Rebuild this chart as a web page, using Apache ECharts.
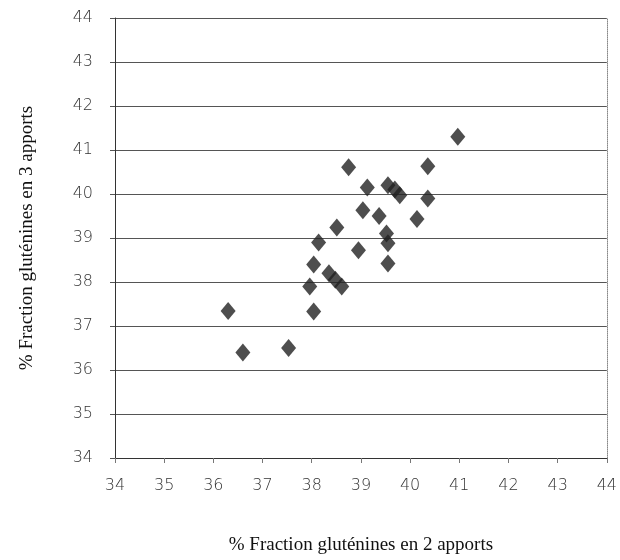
<!DOCTYPE html>
<html>
<head>
<meta charset="utf-8">
<script src="https://cdn.jsdelivr.net/npm/echarts@6/dist/echarts.min.js"></script>
<style>
  html, body { margin: 0; padding: 0; background: #fff; }
  #chart { width: 620px; height: 560px; }
</style>
</head>
<body>
<div id="chart"></div>
<script>
// % fraction en 2 apports (x) / en 3 apports (y)
const xVals = [38.75, 40.36, 39.13, 39.55, 39.69, 39.79, 40.36, 39.04, 39.37, 40.14,
  38.51, 39.52, 39.55, 38.14, 38.95, 38.04, 39.55, 38.35, 38.48, 38.61,
  37.96, 38.04, 36.3, 36.6, 37.53, 40.97]
const yVals = [40.61, 40.63, 40.15, 40.2, 40.1, 39.97, 39.9, 39.63, 39.5, 39.43,
  39.24, 39.1, 38.88, 38.9, 38.72, 38.4, 38.42, 38.2, 38.05, 37.9,
  37.9, 37.33, 37.34, 36.4, 36.5, 41.3]
const axisMin = 34
const axisMax = 44
const xTitle = '% Fraction gluténines en 2 apports'
const yTitle = '% Fraction gluténines en 3 apports'

const points = xVals.map((x, i) => [x, yVals[i]])

const chart = echarts.init(document.getElementById('chart'))
const tickLabel = {
  color: '#333',
  fontFamily: 'DejaVu Sans',
  fontWeight: 200,
  fontSize: 16
}
const option = {
  backgroundColor: '#fff',
  animation: false,
  grid: {
    left: 115,
    right: 8,
    top: 18,
    bottom: 96
  },
  xAxis: {
    type: 'value',
    min: axisMin,
    max: axisMax,
    interval: 1,
    name: xTitle,
    nameLocation: 'middle',
    nameGap: 78,
    nameTextStyle: { fontFamily: 'Liberation Serif', fontSize: 19, color: '#111' },
    axisLine: { lineStyle: { color: '#333', width: 1 } },
    axisTick: { show: true, length: 5, lineStyle: { color: '#777' } },
    axisLabel: Object.assign({ margin: 20 }, tickLabel),
    splitLine: { show: false }
  },
  yAxis: [{
    type: 'value',
    min: axisMin,
    max: axisMax,
    interval: 1,
    name: yTitle,
    nameLocation: 'middle',
    nameGap: 78,
    nameTextStyle: { fontFamily: 'Liberation Serif', fontSize: 19, color: '#111' },
    axisLine: { show: true, lineStyle: { color: '#333', width: 1 } },
    axisTick: { show: true, length: 5, lineStyle: { color: '#555' } },
    axisLabel: Object.assign({ margin: 22 }, tickLabel),
    splitLine: { show: true, lineStyle: { color: '#555', width: 1 } }
  }, {
    type: 'value',
    position: 'right',
    min: axisMin,
    max: axisMax,
    interval: 1,
    axisLine: { show: true, lineStyle: { color: '#888', type: 'dotted' } },
    axisTick: { show: false },
    axisLabel: { show: false },
    splitLine: { show: false }
  }],
  series: [{
    type: 'scatter',
    data: points,
    symbol: 'diamond',
    symbolSize: [15, 18],
    itemStyle: { color: '#222' }
  }]
}
chart.setOption(option)
</script>
</body>
</html>
